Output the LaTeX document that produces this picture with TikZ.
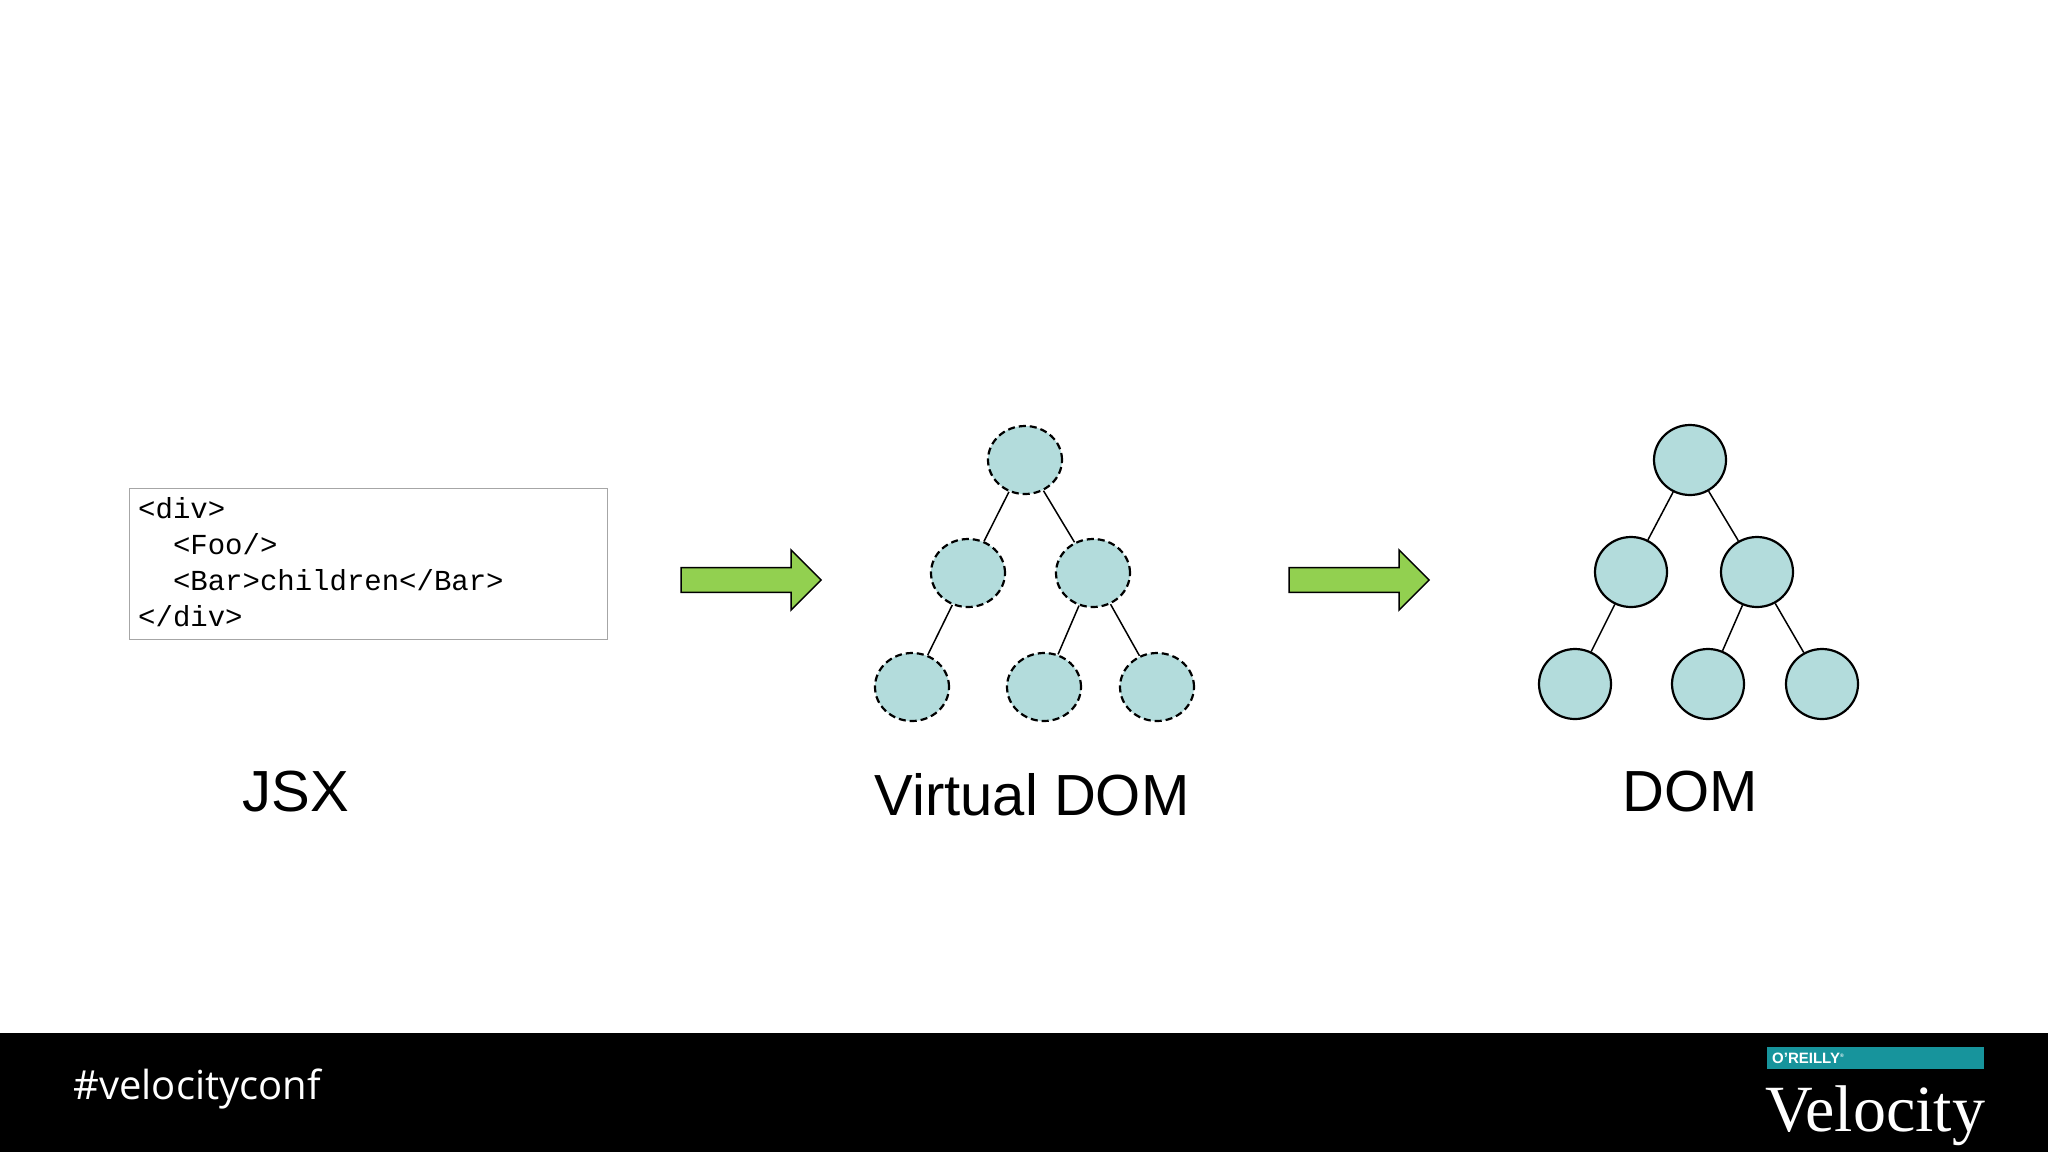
\documentclass[tikz,border=0pt]{standalone}
\usepackage{fontspec}
\setmainfont{Liberation Sans}
\newfontfamily\codefont{Liberation Mono}
\newfontfamily\tagfont{Open Sans}
\newfontfamily\velfont{Liberation Serif}
\usetikzlibrary{shapes.arrows,shapes.geometric}
\definecolor{nodefill}{HTML}{B3DCDC}
\definecolor{arrowgreen}{HTML}{92D050}
\definecolor{tealbar}{HTML}{17949C}
\begin{document}
\begin{tikzpicture}[x=1pt,y=-1pt,
  vnode/.style={ellipse,draw=black,line width=2.2pt,dash pattern=on 7pt off 4pt,fill=nodefill,minimum width=74pt,minimum height=68pt,inner sep=0pt},
  dnode/.style={ellipse,draw=black,line width=2.2pt,fill=nodefill,minimum width=72pt,minimum height=70pt,inner sep=0pt},
  treeedge/.style={draw=black,line width=1.5pt},
  greenarrow/.style={single arrow,draw=black,line width=1.5pt,fill=arrowgreen,minimum height=140pt,minimum width=60pt,single arrow head extend=14pt,inner sep=0pt,text height=18pt},
  biglabel/.style={font=\fontsize{58}{64}\selectfont,anchor=center}]
\useasboundingbox (0,0) rectangle (2048,1152);
\fill[white] (0,0) rectangle (2048,1033);
\fill[black] (0,1033) rectangle (2048,1152);
% code box
\node[draw=gray!70,line width=1.2pt,minimum width=478pt,minimum height=151pt,anchor=north west,inner sep=0pt] (code) at (129,488) {};
\node[anchor=north west,inner sep=0pt,align=left,font=\codefont\fontsize{29}{36}\selectfont] (codetxt) at (138,497)
 {<div>\\\hspace*{1.2em}<Foo/>\\\hspace*{1.2em}<Bar>children</Bar>\\</div>};
% arrows
\node[greenarrow] (a1) at (745,580) {};
\node[greenarrow] (a2) at (1353,580) {};
% virtual DOM
\node[vnode] (v0) at (1025,460) {};
\node[vnode] (v1) at (968,573) {};
\node[vnode] (v2) at (1093,573) {};
\node[vnode] (v3) at (912,687) {};
\node[vnode] (v4) at (1044,687) {};
\node[vnode] (v5) at (1157,687) {};
\draw[treeedge] (v0) -- (v1); \draw[treeedge] (v0) -- (v2);
\draw[treeedge] (v1) -- (v3); \draw[treeedge] (v2) -- (v4); \draw[treeedge] (v2) -- (v5);
% DOM
\node[dnode] (d0) at (1690,460) {};
\node[dnode] (d1) at (1631,572) {};
\node[dnode] (d2) at (1757,572) {};
\node[dnode] (d3) at (1575,684) {};
\node[dnode] (d4) at (1708,684) {};
\node[dnode] (d5) at (1822,684) {};
\draw[treeedge] (d0) -- (d1); \draw[treeedge] (d0) -- (d2);
\draw[treeedge] (d1) -- (d3); \draw[treeedge] (d2) -- (d4); \draw[treeedge] (d2) -- (d5);
% labels
\node[biglabel] (ljsx) at (296,792) {JSX};
\node[biglabel] (lvdom) at (1032,795) {Virtual DOM};
\node[biglabel] (ldom) at (1690,792) {DOM};
% footer
\node[anchor=west,text=white,font=\tagfont\fontsize{40}{44}\selectfont] (tag) at (70,1089) {\#velocityconf};
\fill[tealbar] (1767,1047) rectangle (1984,1069);
\node[anchor=west,text=white,inner sep=0pt,font=\bfseries\fontsize{15}{16}\selectfont] (orl) at (1772,1058) {O'REILLY\textsuperscript{\tiny ®}};
\node[anchor=base west,text=white,inner sep=0pt,font=\velfont\fontsize{66}{70}\selectfont] (vel) at (1765,1131) {Velocity};
\end{tikzpicture}
\end{document}
